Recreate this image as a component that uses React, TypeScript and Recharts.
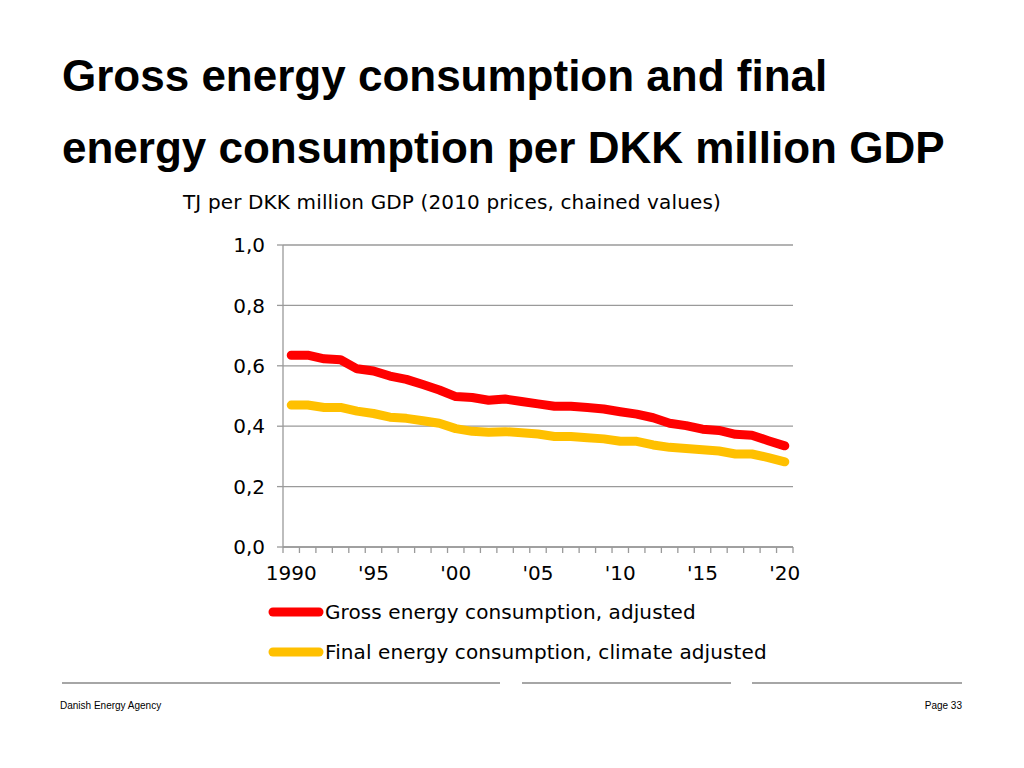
import React from 'react';
import { LineChart, Line, XAxis, YAxis, CartesianGrid, Legend } from 'recharts';

const years = [
  1990, 1991, 1992, 1993, 1994, 1995, 1996, 1997, 1998, 1999,
  2000, 2001, 2002, 2003, 2004, 2005, 2006, 2007, 2008, 2009,
  2010, 2011, 2012, 2013, 2014, 2015, 2016, 2017, 2018, 2019, 2020,
];

const grossEnergy = [
  0.635, 0.635, 0.623, 0.62, 0.59, 0.583, 0.566, 0.555, 0.538, 0.52,
  0.498, 0.495, 0.486, 0.49, 0.482, 0.474, 0.466, 0.466, 0.462, 0.457,
  0.448, 0.44, 0.428, 0.41, 0.402, 0.39, 0.386, 0.373, 0.37, 0.352, 0.335,
];

const finalEnergy = [
  0.47, 0.47, 0.462, 0.462, 0.45, 0.442, 0.43, 0.426, 0.418, 0.41,
  0.392, 0.383, 0.38, 0.382, 0.378, 0.374, 0.366, 0.366, 0.362, 0.358,
  0.35, 0.35, 0.338, 0.33, 0.326, 0.322, 0.318, 0.308, 0.308, 0.296, 0.282,
];

const xLabelYears = [1990, 1995, 2000, 2005, 2010, 2015, 2020];
const xTickLabels = ['1990', "'95", "'00", "'05", "'10", "'15", "'20"];
const yTicks = [0, 0.2, 0.4, 0.6, 0.8, 1.0];
const yTickLabels = ['0,0', '0,2', '0,4', '0,6', '0,8', '1,0'];
const seriesKeys = ['gross', 'final'];
const seriesNames = ['Gross energy consumption, adjusted', 'Final energy consumption, climate adjusted'];
const seriesColors = ['#FF0000', '#FFC000'];

const titleLines = ['Gross energy consumption and final', 'energy consumption per DKK million GDP'];
const subtitle = 'TJ per DKK million GDP (2010 prices, chained values)';
const footerLeft = 'Danish Energy Agency';
const footerRight = 'Page 33';

const data = years.map((year, i) => ({ year, gross: grossEnergy[i], final: finalEnergy[i] }));
const boundaryTicks = [...years.map((y) => y - 0.5), years[years.length - 1] + 0.5];
const xDomain = [years[0] - 0.5, years[years.length - 1] + 0.5];

const FONT = "'DejaVu Sans', Verdana, sans-serif";
const ARIAL = "'Liberation Sans', Arial, Helvetica, sans-serif";
const AXIS_GREY = '#9a9a9a';

const renderLegend = () => (
  <div style={{ fontFamily: FONT, fontSize: 20, color: '#000', letterSpacing: '0.1px' }}>
    {seriesNames.map((name, i) => (
      <div key={name} style={{ display: 'flex', alignItems: 'center', height: 40 }}>
        <svg width={57} height={12} style={{ display: 'block' }}>
          <line x1={5} y1={6} x2={51} y2={6} stroke={seriesColors[i]} strokeWidth={9} strokeLinecap="round" />
        </svg>
        <span style={{ whiteSpace: 'nowrap' }}>{name}</span>
      </div>
    ))}
  </div>
);

export default function App() {
  return (
    <div style={{ position: 'absolute', left: 0, top: 0, width: 1024, height: 768, background: '#fff', overflow: 'hidden' }}>
      {titleLines.map((t, i) => (
        <div
          key={t}
          style={{
            position: 'absolute', left: 62, top: 40 + i * 72, fontFamily: ARIAL, fontWeight: 'bold',
            fontSize: 44, lineHeight: '72px', color: '#000', whiteSpace: 'nowrap',
          }}
        >
          {t}
        </div>
      ))}
      <div
        style={{
          position: 'absolute', left: 183, top: 192, fontFamily: FONT, fontSize: 20, lineHeight: '20px',
          color: '#000', whiteSpace: 'nowrap', letterSpacing: '0.14px',
        }}
      >
        {subtitle}
      </div>

      <LineChart
        width={1024}
        height={768}
        data={data}
        margin={{ top: 245, right: 231, left: 223, bottom: 175 }}
        style={{ position: 'absolute', left: 0, top: 0 }}
      >
        <CartesianGrid vertical={false} stroke={AXIS_GREY} strokeWidth={1.3} xAxisId="a_ticks" />
        <XAxis
          xAxisId="b_labels"
          dataKey="year"
          type="number"
          domain={xDomain}
          ticks={xLabelYears}
          interval={0}
          height={40}
          axisLine={false}
          tickLine={false}
          tickSize={0}
          tickMargin={13}
          tickFormatter={(v: number) => xTickLabels[xLabelYears.indexOf(v)] ?? ''}
          tick={{ fontFamily: FONT, fontSize: 20, fill: '#000' }}
        />
        <XAxis
          xAxisId="a_ticks"
          dataKey="year"
          type="number"
          domain={xDomain}
          ticks={boundaryTicks}
          interval={0}
          height={6}
          tickFormatter={() => ''}
          tickSize={6}
          tickMargin={0}
          axisLine={{ stroke: AXIS_GREY, strokeWidth: 1.3 }}
          tickLine={{ stroke: AXIS_GREY, strokeWidth: 1.3 }}
        />
        <YAxis
          domain={[0, 1]}
          ticks={yTicks}
          interval={0}
          width={60}
          tickSize={6}
          tickMargin={12}
          axisLine={{ stroke: AXIS_GREY, strokeWidth: 1.3 }}
          tickLine={{ stroke: AXIS_GREY, strokeWidth: 1.3 }}
          tickFormatter={(v: number) => yTickLabels[yTicks.indexOf(v)] ?? ''}
          tick={{ fontFamily: FONT, fontSize: 20, fill: '#000' }}
        />
        {seriesKeys.map((k, i) => (
          <Line
            key={k}
            xAxisId="a_ticks"
            type="linear"
            dataKey={k}
            name={seriesNames[i]}
            stroke={seriesColors[i]}
            strokeWidth={9}
            strokeLinecap="round"
            strokeLinejoin="round"
            dot={false}
            activeDot={false}
            isAnimationActive={false}
          />
        ))}
        <Legend
          layout="vertical"
          align="center"
          verticalAlign="middle"
          content={renderLegend}
          wrapperStyle={{ position: 'absolute', left: 268, top: 592, width: 540, height: 80 }}
        />
      </LineChart>

      <div style={{ position: 'absolute', left: 62, top: 682, width: 438, height: 2, background: '#a6a6a6' }} />
      <div style={{ position: 'absolute', left: 522, top: 682, width: 209, height: 2, background: '#a6a6a6' }} />
      <div style={{ position: 'absolute', left: 752, top: 682, width: 210, height: 2, background: '#a6a6a6' }} />
      <div style={{ position: 'absolute', left: 60, top: 700, fontFamily: ARIAL, fontSize: 10, lineHeight: '12px', color: '#000', whiteSpace: 'nowrap' }}>
        {footerLeft}
      </div>
      <div style={{ position: 'absolute', right: 1024 - 962, top: 700, fontFamily: ARIAL, fontSize: 10, lineHeight: '12px', color: '#000', whiteSpace: 'nowrap' }}>
        {footerRight}
      </div>
    </div>
  );
}
